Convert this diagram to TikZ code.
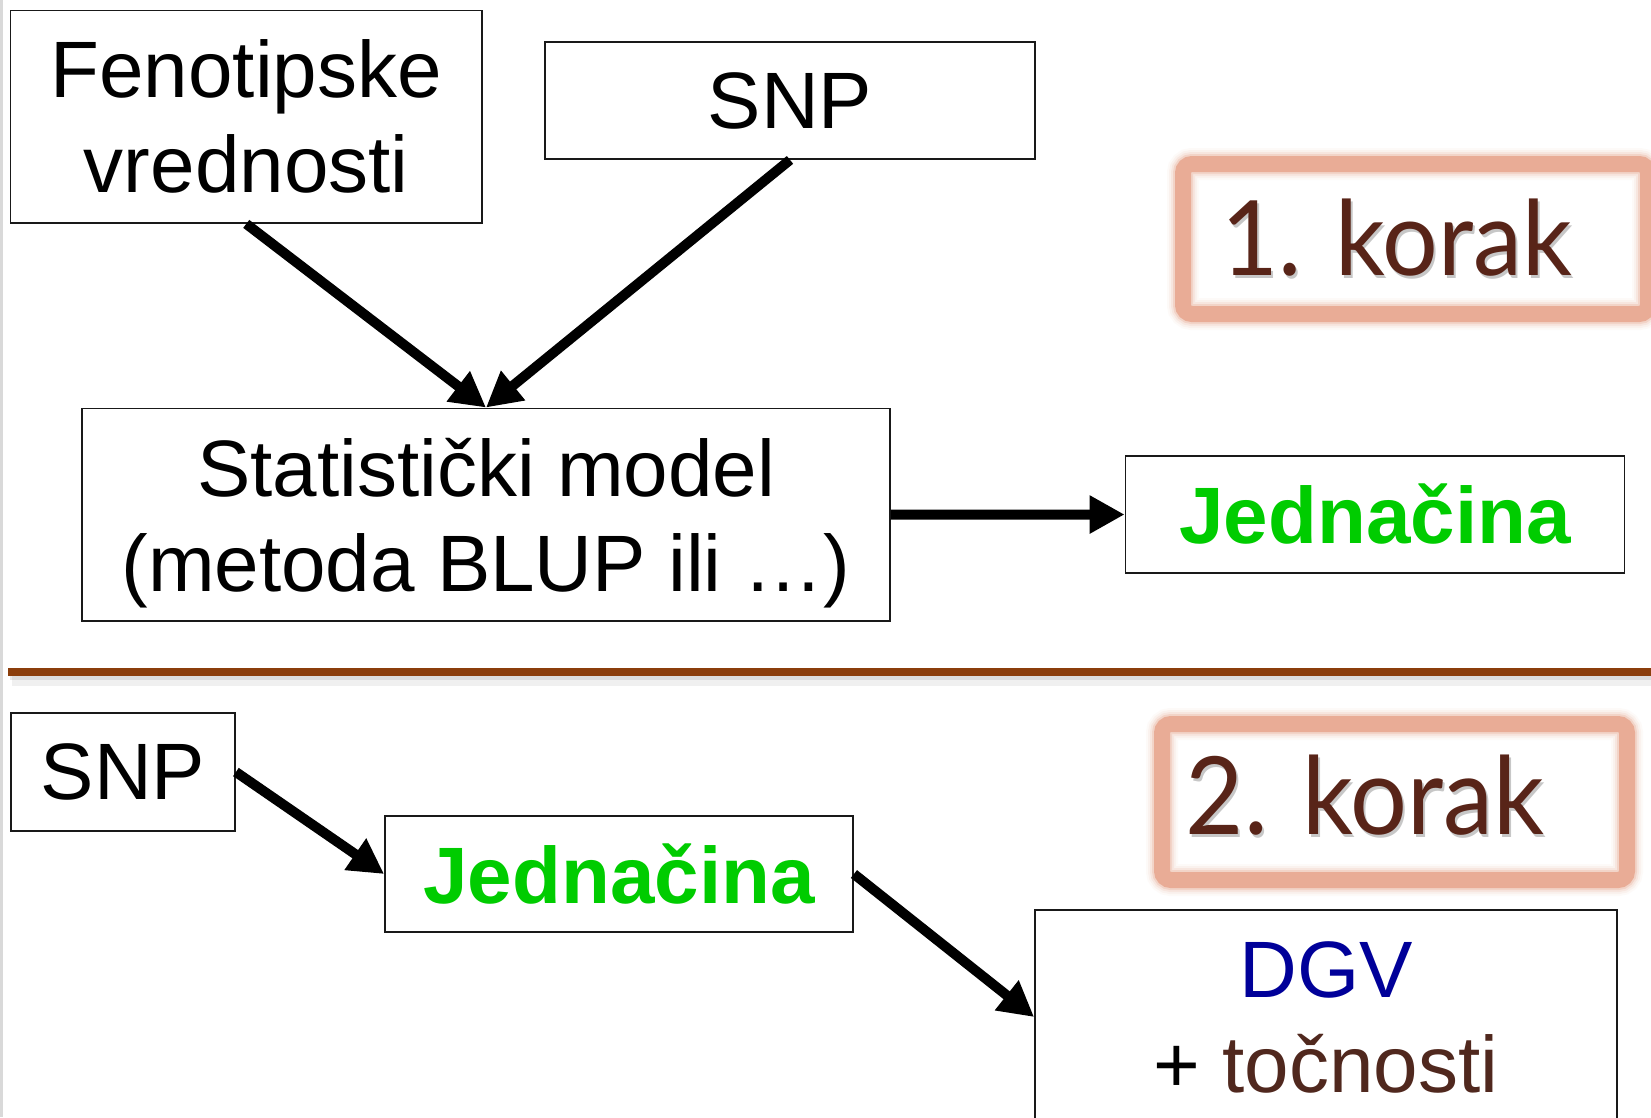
\documentclass[tikz,border=0pt]{standalone}
\usepackage{fontspec}
\setmainfont{Liberation Sans}
\newfontfamily\stepfont{Lato}
\usetikzlibrary{arrows.meta}
\definecolor{eqgreen}{RGB}{0,204,0}
\definecolor{dgvblue}{RGB}{0,0,153}
\definecolor{accbrown}{RGB}{80,40,30}
\definecolor{stepbrown}{RGB}{88,36,24}
\definecolor{stepframe}{RGB}{233,172,150}
\definecolor{rulebrown}{RGB}{139,62,12}
\begin{document}
\begin{tikzpicture}[x=1pt,y=-1pt,
  box/.style={draw=black!90, line width=1.8pt, rectangle, inner sep=0pt,
    align=center, font=\fontsize{80}{95}\selectfont},
  eqtext/.style={text=eqgreen, font=\fontsize{80}{95}\selectfont\bfseries},
  flow/.style={line width=10pt, -{Triangle[length=35pt,width=36pt]}},
  steptext/.style={anchor=base, text=stepbrown, inner sep=0pt},
  stepshadow/.style={anchor=base, text=black, opacity=.22, inner sep=0pt},
  glow/.style={draw=stepframe, rounded corners=9pt}
]
\useasboundingbox (0,0) rectangle (1651,1117);
\fill[white] (0,0) rectangle (1651,1117);
\draw[black!15, line width=3pt] (1.5,0) -- (1.5,1117);

% step 1 boxes
\node[box, minimum width=471.5pt, minimum height=212.5pt] (fen) at (246.25,116.75) {Fenotipske\\vrednosti};
\node[box, minimum width=490pt, minimum height=117pt] (snpA) at (790,100.5) {SNP};
\node[box, minimum width=808pt, minimum height=212.5pt, text depth=0pt] (stat) at (486,514.7) {Statistički model\\(metoda BLUP ili …)};
\node[box, eqtext, minimum width=499pt, minimum height=117pt] (jedA) at (1375,514.5) {Jednačina};

% step 2 boxes
\node[box, minimum width=224pt, minimum height=118pt] (snpB) at (123,772) {SNP};
\node[box, eqtext, minimum width=468pt, minimum height=116pt] (jedB) at (619,874) {Jednačina};
\node[box, minimum width=582pt, minimum height=214pt] (dgv) at (1326,1017) {\textcolor{dgvblue}{DGV}\\+ \textcolor{accbrown}{točnosti}};

% connectors
\draw[flow] (fen.south) -- (stat.north);
\draw[flow] (snpA.south) -- (stat.north);
\draw[flow] (stat.east) -- (jedA.west);
\draw[flow] (snpB.east) -- (jedB.west);
\draw[flow] (jedB.east) -- (dgv.west);

% separator between the two steps
\draw[black, opacity=.06, line width=12pt] (12,680) -- (1651,680);
\draw[black, opacity=.08, line width=6pt] (10,677) -- (1651,677);
\draw[rulebrown, line width=8pt] (8,672) -- (1651,672);

% step labels with soft frames
\foreach \w/\o in {32/.06, 28/.1, 24/.16, 20/.3, 16/1} {
  \draw[glow, line width=\w pt, opacity=\o] (1183,164) rectangle (1648,314);
  \draw[glow, line width=\w pt, opacity=\o] (1162,724) rectangle (1627,880);
}
\node[stepshadow, font=\stepfont\fontsize{104}{104}\selectfont] (k1s) at (1399,278) {\scalebox{0.945}[1]{1. korak}};
\node[steptext, font=\stepfont\fontsize{104}{104}\selectfont] (k1) at (1397,275) {\scalebox{0.945}[1]{1. korak}};
\node[stepshadow, font=\stepfont\fontsize{108}{108}\selectfont] (k2s) at (1367,837) {\scalebox{0.93}[1]{2. korak}};
\node[steptext, font=\stepfont\fontsize{108}{108}\selectfont] (k2) at (1365,834) {\scalebox{0.93}[1]{2. korak}};
\end{tikzpicture}
\end{document}
